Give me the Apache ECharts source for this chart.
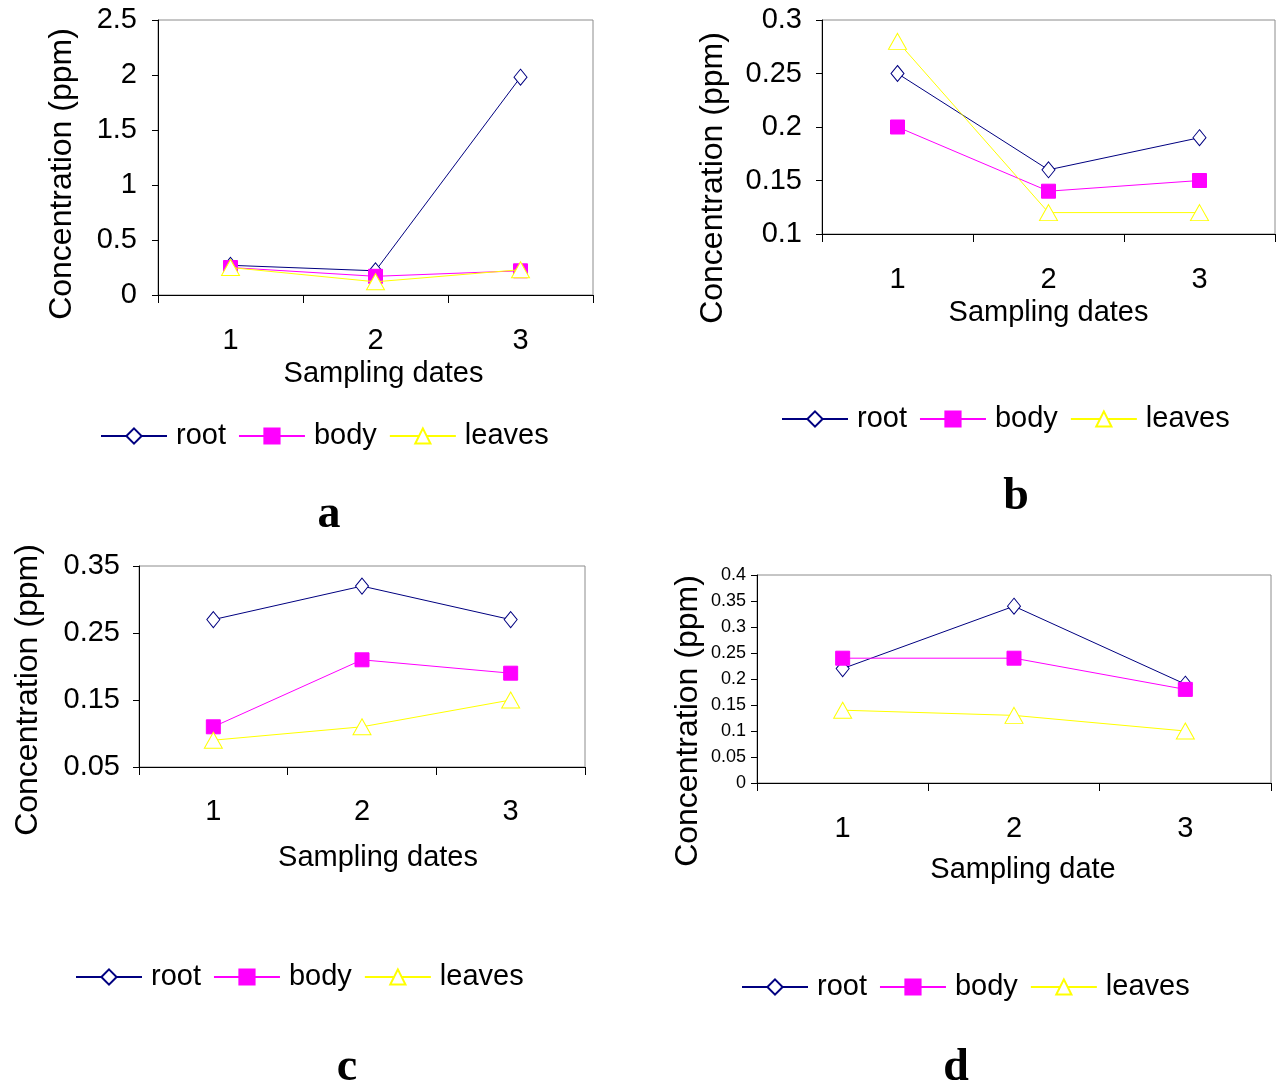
<!DOCTYPE html>
<html>
<head>
<meta charset="utf-8">
<script src="https://cdn.jsdelivr.net/npm/echarts@6/dist/echarts.min.js"></script>
<style>
  html, body { margin: 0; padding: 0; background: #fff; }
  #chart { width: 1280px; height: 1087px; }
</style>
</head>
<body>
<div id="chart"></div>
<script>
// sampling dates on the x axis
const dates = ['1', '2', '3'];
const seriesNames = ['root', 'body', 'leaves'];

// panel a
const rootA = [0.27, 0.22, 1.98];
const bodyA = [0.25, 0.17, 0.22];
const leavesA = [0.25, 0.12, 0.23];
// panel b
const rootB = [0.25, 0.16, 0.19];
const bodyB = [0.20, 0.14, 0.15];
const leavesB = [0.28, 0.12, 0.12];
// panel c
const rootC = [0.27, 0.32, 0.27];
const bodyC = [0.11, 0.21, 0.19];
const leavesC = [0.09, 0.11, 0.15];
// panel d
const rootD = [0.22, 0.34, 0.19];
const bodyD = [0.24, 0.24, 0.18];
const leavesD = [0.14, 0.13, 0.10];

// y axis ranges [min, max, interval]
const yRangeA = [0, 2.5, 0.5];
const yRangeB = [0.1, 0.3, 0.05];
const yRangeC = [0.05, 0.35, 0.1];
const yRangeD = [0, 0.4, 0.05];

const xTitles = ['Sampling dates', 'Sampling dates', 'Sampling dates', 'Sampling date'];
const yTitle = 'Concentration (ppm)';
const panelLetters = ['a', 'b', 'c', 'd'];

const FONT = 'Liberation Sans, Arial, sans-serif';

const panels = [
  { grid: { left: 158, top: 20, width: 435, height: 275 }, y: yRangeA, data: [rootA, bodyA, leavesA],
    yFont: 29, yMargin: 21, xMargin: 31, nameGap: 64, nameShift: 16,
    yTitlePos: [62, 174], legend: { left: 100, top: 421 }, letter: [329, 515] },
  { grid: { left: 822, top: 20, width: 453, height: 214 }, y: yRangeB, data: [rootB, bodyB, leavesB],
    yFont: 29, yMargin: 20, xMargin: 31, nameGap: 64, nameShift: 0,
    yTitlePos: [713, 178], legend: { left: 781, top: 404 }, letter: [1016, 497] },
  { grid: { left: 139, top: 566, width: 446, height: 201 }, y: yRangeC, data: [rootC, bodyC, leavesC],
    yFont: 29, yMargin: 19, xMargin: 30, nameGap: 76, nameShift: 32,
    yTitlePos: [28, 690], legend: { left: 75, top: 962 }, letter: [347, 1068] },
  { grid: { left: 757, top: 575, width: 514, height: 208 }, y: yRangeD, data: [rootD, bodyD, leavesD],
    yFont: 18, yMargin: 11, xMargin: 31, nameGap: 72, nameShift: 18,
    yTitlePos: [688, 721], legend: { left: 741, top: 972 }, letter: [956, 1068] }
];

const styles = [
  { symbol: 'diamond', symbolSize: [13, 16], line: '#000080',
    item: { color: '#fff', borderColor: '#000080', borderWidth: 1 } },
  { symbol: 'rect', symbolSize: 14, line: '#FF00FF',
    item: { color: '#FF00FF', borderColor: '#FF00FF', borderWidth: 1 } },
  { symbol: 'triangle', symbolSize: [18, 16], line: '#FFFF00',
    item: { color: '#fff', borderColor: '#FFFF00', borderWidth: 1 } }
];

const fmt = v => String(parseFloat(v.toFixed(3)));

const option = {
  backgroundColor: '#fff',
  animation: false,
  textStyle: { fontFamily: FONT, color: '#000' },
  grid: panels.map(p => Object.assign({
    show: true, borderColor: '#8c8c8c', borderWidth: 1, backgroundColor: 'transparent'
  }, p.grid)),
  xAxis: panels.map((p, i) => ({
    type: 'category',
    gridIndex: i,
    data: dates,
    boundaryGap: true,
    name: xTitles[i],
    nameLocation: 'middle',
    nameGap: p.nameGap,
    nameTextStyle: { fontSize: 29, color: '#000', fontFamily: FONT, padding: [0, 0, 0, p.nameShift] },
    axisLine: { lineStyle: { color: '#000', width: 1 } },
    axisTick: { show: true, inside: false, length: 8, lineStyle: { color: '#000' } },
    axisLabel: { fontSize: 29, color: '#000', margin: p.xMargin, fontFamily: FONT },
    splitLine: { show: false }
  })),
  yAxis: panels.map((p, i) => ({
    type: 'value',
    gridIndex: i,
    min: p.y[0],
    max: p.y[1],
    interval: p.y[2],
    axisLine: { show: true, lineStyle: { color: '#000', width: 1 } },
    axisTick: { show: true, inside: false, length: 6, lineStyle: { color: '#000' } },
    axisLabel: { fontSize: p.yFont, color: '#000', margin: p.yMargin, formatter: fmt, fontFamily: FONT },
    splitLine: { show: false }
  })),
  legend: panels.map(p => ({
    left: p.legend.left,
    top: p.legend.top,
    padding: 0,
    orient: 'horizontal',
    data: seriesNames,
    itemWidth: 66,
    itemHeight: 19,
    itemGap: 12,
    selectedMode: false,
    textStyle: { fontSize: 29, color: '#000', fontFamily: FONT, lineHeight: 30, padding: [0, 0, 0, 4] }
  })),
  graphic: panels.flatMap((p, i) => [
    {
      type: 'text',
      x: p.yTitlePos[0],
      y: p.yTitlePos[1],
      rotation: Math.PI / 2,
      style: {
        text: yTitle,
        font: '32px ' + FONT,
        fill: '#000',
        textAlign: 'center', align: 'center',
        textVerticalAlign: 'middle', verticalAlign: 'middle'
      }
    },
    {
      type: 'text',
      x: p.letter[0],
      y: p.letter[1],
      style: {
        text: panelLetters[i],
        font: 'bold 46px Liberation Serif, Times New Roman, serif',
        fill: '#000',
        textAlign: 'center', align: 'center',
        textVerticalAlign: 'middle', verticalAlign: 'middle'
      }
    }
  ]),
  series: panels.flatMap((p, i) => p.data.map((vals, k) => ({
    name: seriesNames[k],
    type: 'line',
    xAxisIndex: i,
    yAxisIndex: i,
    data: vals,
    symbol: styles[k].symbol,
    symbolSize: styles[k].symbolSize,
    showAllSymbol: true,
    lineStyle: { color: styles[k].line, width: 1 },
    itemStyle: styles[k].item,
    emphasis: { disabled: true },
    z: 2 + k
  })))
};

const myChart = echarts.init(document.getElementById('chart'));
myChart.setOption(option);
</script>
</body>
</html>
